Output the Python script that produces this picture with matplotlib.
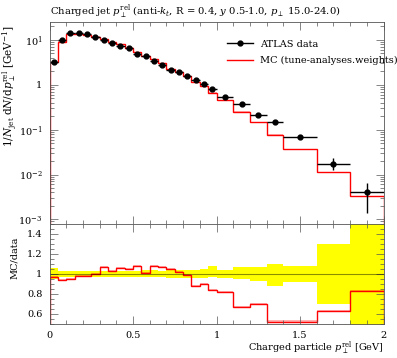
import numpy as np
import matplotlib
matplotlib.use("Agg")
import matplotlib.pyplot as plt
from matplotlib.ticker import FixedLocator, MultipleLocator, FuncFormatter, LogLocator, NullFormatter
from matplotlib.lines import Line2D

# bin edges (GeV)
edges = [0.0, 0.05, 0.1, 0.15, 0.2, 0.25, 0.3, 0.35, 0.4, 0.45, 0.5,
         0.55, 0.6, 0.65, 0.7, 0.75, 0.8, 0.85, 0.9, 0.95, 1.0,
         1.1, 1.2, 1.3, 1.4, 1.6, 1.8, 2.0]

# ATLAS data values
data_y = [3.3, 9.8, 14.1, 14.2, 13.4, 11.8, 9.8, 8.7, 7.5, 6.45,
          4.88, 4.28, 3.43, 2.8, 2.15, 1.9, 1.55, 1.28, 1.04, 0.80,
          0.546, 0.376, 0.214, 0.149, 0.070, 0.0176, 0.0040]
# relative data uncertainties (up / down)
err_up = [0.055, 0.033, 0.03, 0.027, 0.027, 0.03, 0.03, 0.03, 0.03, 0.03,
          0.03, 0.035, 0.035, 0.03, 0.045, 0.04, 0.04, 0.043, 0.047, 0.083,
          0.04, 0.073, 0.073, 0.097, 0.08, 0.30, 0.65]
err_dn = [0.055, 0.033, 0.03, 0.027, 0.027, 0.03, 0.03, 0.03, 0.03, 0.03,
          0.03, 0.03, 0.03, 0.03, 0.04, 0.04, 0.04, 0.043, 0.043, 0.033,
          0.043, 0.053, 0.07, 0.117, 0.077, 0.30, 0.65]

# MC / data ratio
mc_ratio = [0.97, 0.94, 0.95, 0.98, 0.98, 1.003, 1.067, 1.033, 1.057, 1.047,
            1.077, 1.007, 1.077, 1.067, 1.053, 1.017, 0.993, 0.88, 0.897, 0.84,
            0.82, 0.673, 0.697, 0.522, 0.522, 0.633, 0.83]
# relative MC stat. uncertainty
mc_err = [0.01, 0.01, 0.01, 0.01, 0.01, 0.01, 0.01, 0.01, 0.01, 0.01,
          0.01, 0.01, 0.01, 0.01, 0.01, 0.01, 0.01, 0.012, 0.012, 0.01,
          0.01, 0.015, 0.012, 0.03, 0.03, 0.01, 0.01]

xticks = [0, 0.5, 1, 1.5, 2]
ratio_ticks = [0.6, 0.8, 1.0, 1.2, 1.4]

edges = np.array(edges)
data_y = np.array(data_y)
centers = 0.5 * (edges[1:] + edges[:-1])
halfw = 0.5 * (edges[1:] - edges[:-1])
mc_y = data_y * np.array(mc_ratio)
mc_e = np.array(mc_err)

plt.rcParams['font.family'] = ['DejaVu Serif']
plt.rcParams['mathtext.fontset'] = 'dejavuserif'
fs = 7

fig = plt.figure(figsize=(3.97, 3.58), dpi=100)
ax = fig.add_axes([0.1247, 0.3743, 0.8413, 0.5629])
rax = fig.add_axes([0.1247, 0.095, 0.8413, 0.2793])

# main panel
ax.fill_between(edges, np.r_[mc_y * (1 - mc_e), mc_y[-1] * (1 - mc_e[-1])],
                np.r_[mc_y * (1 + mc_e), mc_y[-1] * (1 + mc_e[-1])],
                step='post', color='#ff0000', alpha=0.3, lw=0)
ax.stairs(mc_y, edges, color='#ff0000', lw=1.0)
ax.errorbar(centers, data_y, xerr=halfw,
            yerr=[data_y * np.array(err_dn), data_y * np.array(err_up)],
            fmt='o', color='black', ms=3.5, elinewidth=1.0, capsize=0)
ax.set_yscale('log')
ax.set_xlim(0, 2)
ax.set_ylim(7.9e-4, 24.5)
ax.xaxis.set_major_locator(FixedLocator(xticks))
ax.xaxis.set_minor_locator(MultipleLocator(0.1))
ax.xaxis.set_major_formatter(NullFormatter())
ax.yaxis.set_major_locator(LogLocator(base=10, numticks=10))
ax.yaxis.set_minor_locator(LogLocator(base=10, subs=np.arange(2, 10), numticks=10))
ax.yaxis.set_minor_formatter(NullFormatter())


def logfmt(v, pos):
    e = int(round(np.log10(v)))
    return '1' if e == 0 else r'$10^{%d}$' % e


ax.yaxis.set_major_formatter(FuncFormatter(logfmt))
ax.set_title(r'Charged jet $p_\perp^\mathrm{rel}$ (anti-$k_t$, R = 0.4, $y$ 0.5-1.0, $p_\perp$ 15.0-24.0)',
             loc='left', fontsize=7.2, pad=5)
ax.set_ylabel(r'$1/N_\mathrm{jet}\;\mathrm{d}N/\mathrm{d}p_\perp^\mathrm{rel}$ [GeV$^{-1}$]',
              fontsize=7.6, rotation=90, ha='right', va='bottom', rotation_mode='anchor')

handles = [Line2D([], [], color='black', marker='o', ms=3.5, lw=1.0),
           Line2D([], [], color='#ff0000', lw=1.0)]
ax.legend(handles, ['ATLAS data', 'MC (tune-analyses.weights)'], loc='upper left',
          bbox_to_anchor=(0.53, 0.915), frameon=False, fontsize=fs,
          handlelength=2.7, handletextpad=0.7, borderpad=0, borderaxespad=0,
          labelspacing=0.75)

# ratio panel
data_lo = np.r_[1 - np.array(err_dn), 1 - err_dn[-1]]
data_hi = np.r_[1 + np.array(err_up), 1 + err_up[-1]]
rax.fill_between(edges, data_lo, data_hi, step='post', color='#ffff00', lw=0)
rax.axhline(1.0, color='black', alpha=0.45, lw=0.8)
mr = np.array(mc_ratio)
rax.fill_between(edges, np.r_[mr * (1 - mc_e), mr[-1] * (1 - mc_e[-1])],
                 np.r_[mr * (1 + mc_e), mr[-1] * (1 + mc_e[-1])],
                 step='post', color='#ff0000', alpha=0.3, lw=0)
rax.stairs(mr, edges, color='#ff0000', lw=1.0)
rax.set_xlim(0, 2)
rax.set_ylim(0.5, 1.5)
rax.xaxis.set_major_locator(FixedLocator(xticks))
rax.xaxis.set_minor_locator(MultipleLocator(0.1))
rax.yaxis.set_major_locator(FixedLocator(ratio_ticks))
rax.yaxis.set_minor_locator(MultipleLocator(0.05))
rax.xaxis.set_major_formatter(FuncFormatter(lambda v, p: '%g' % v))
rax.yaxis.set_major_formatter(FuncFormatter(lambda v, p: '%g' % v))
rax.set_xlabel(r'Charged particle $p_\perp^\mathrm{rel}$ [GeV]', loc='right', fontsize=fs, labelpad=0)
rax.set_ylabel('MC/data', fontsize=fs, rotation=90, ha='right', va='bottom', rotation_mode='anchor')

for a in (ax, rax):
    a.tick_params(which='both', direction='in', top=True, right=True,
                  labelsize=fs, width=0.5, color='#555555')
    a.tick_params(which='major', length=6, pad=5)
    a.tick_params(which='minor', length=3)
    for s in a.spines.values():
        s.set_linewidth(0.6)
        s.set_color('#555555')
ax.yaxis.set_label_coords(-0.092, 0.99)
rax.yaxis.set_label_coords(-0.092, 0.87)

fig.savefig('out.png', dpi=100)
